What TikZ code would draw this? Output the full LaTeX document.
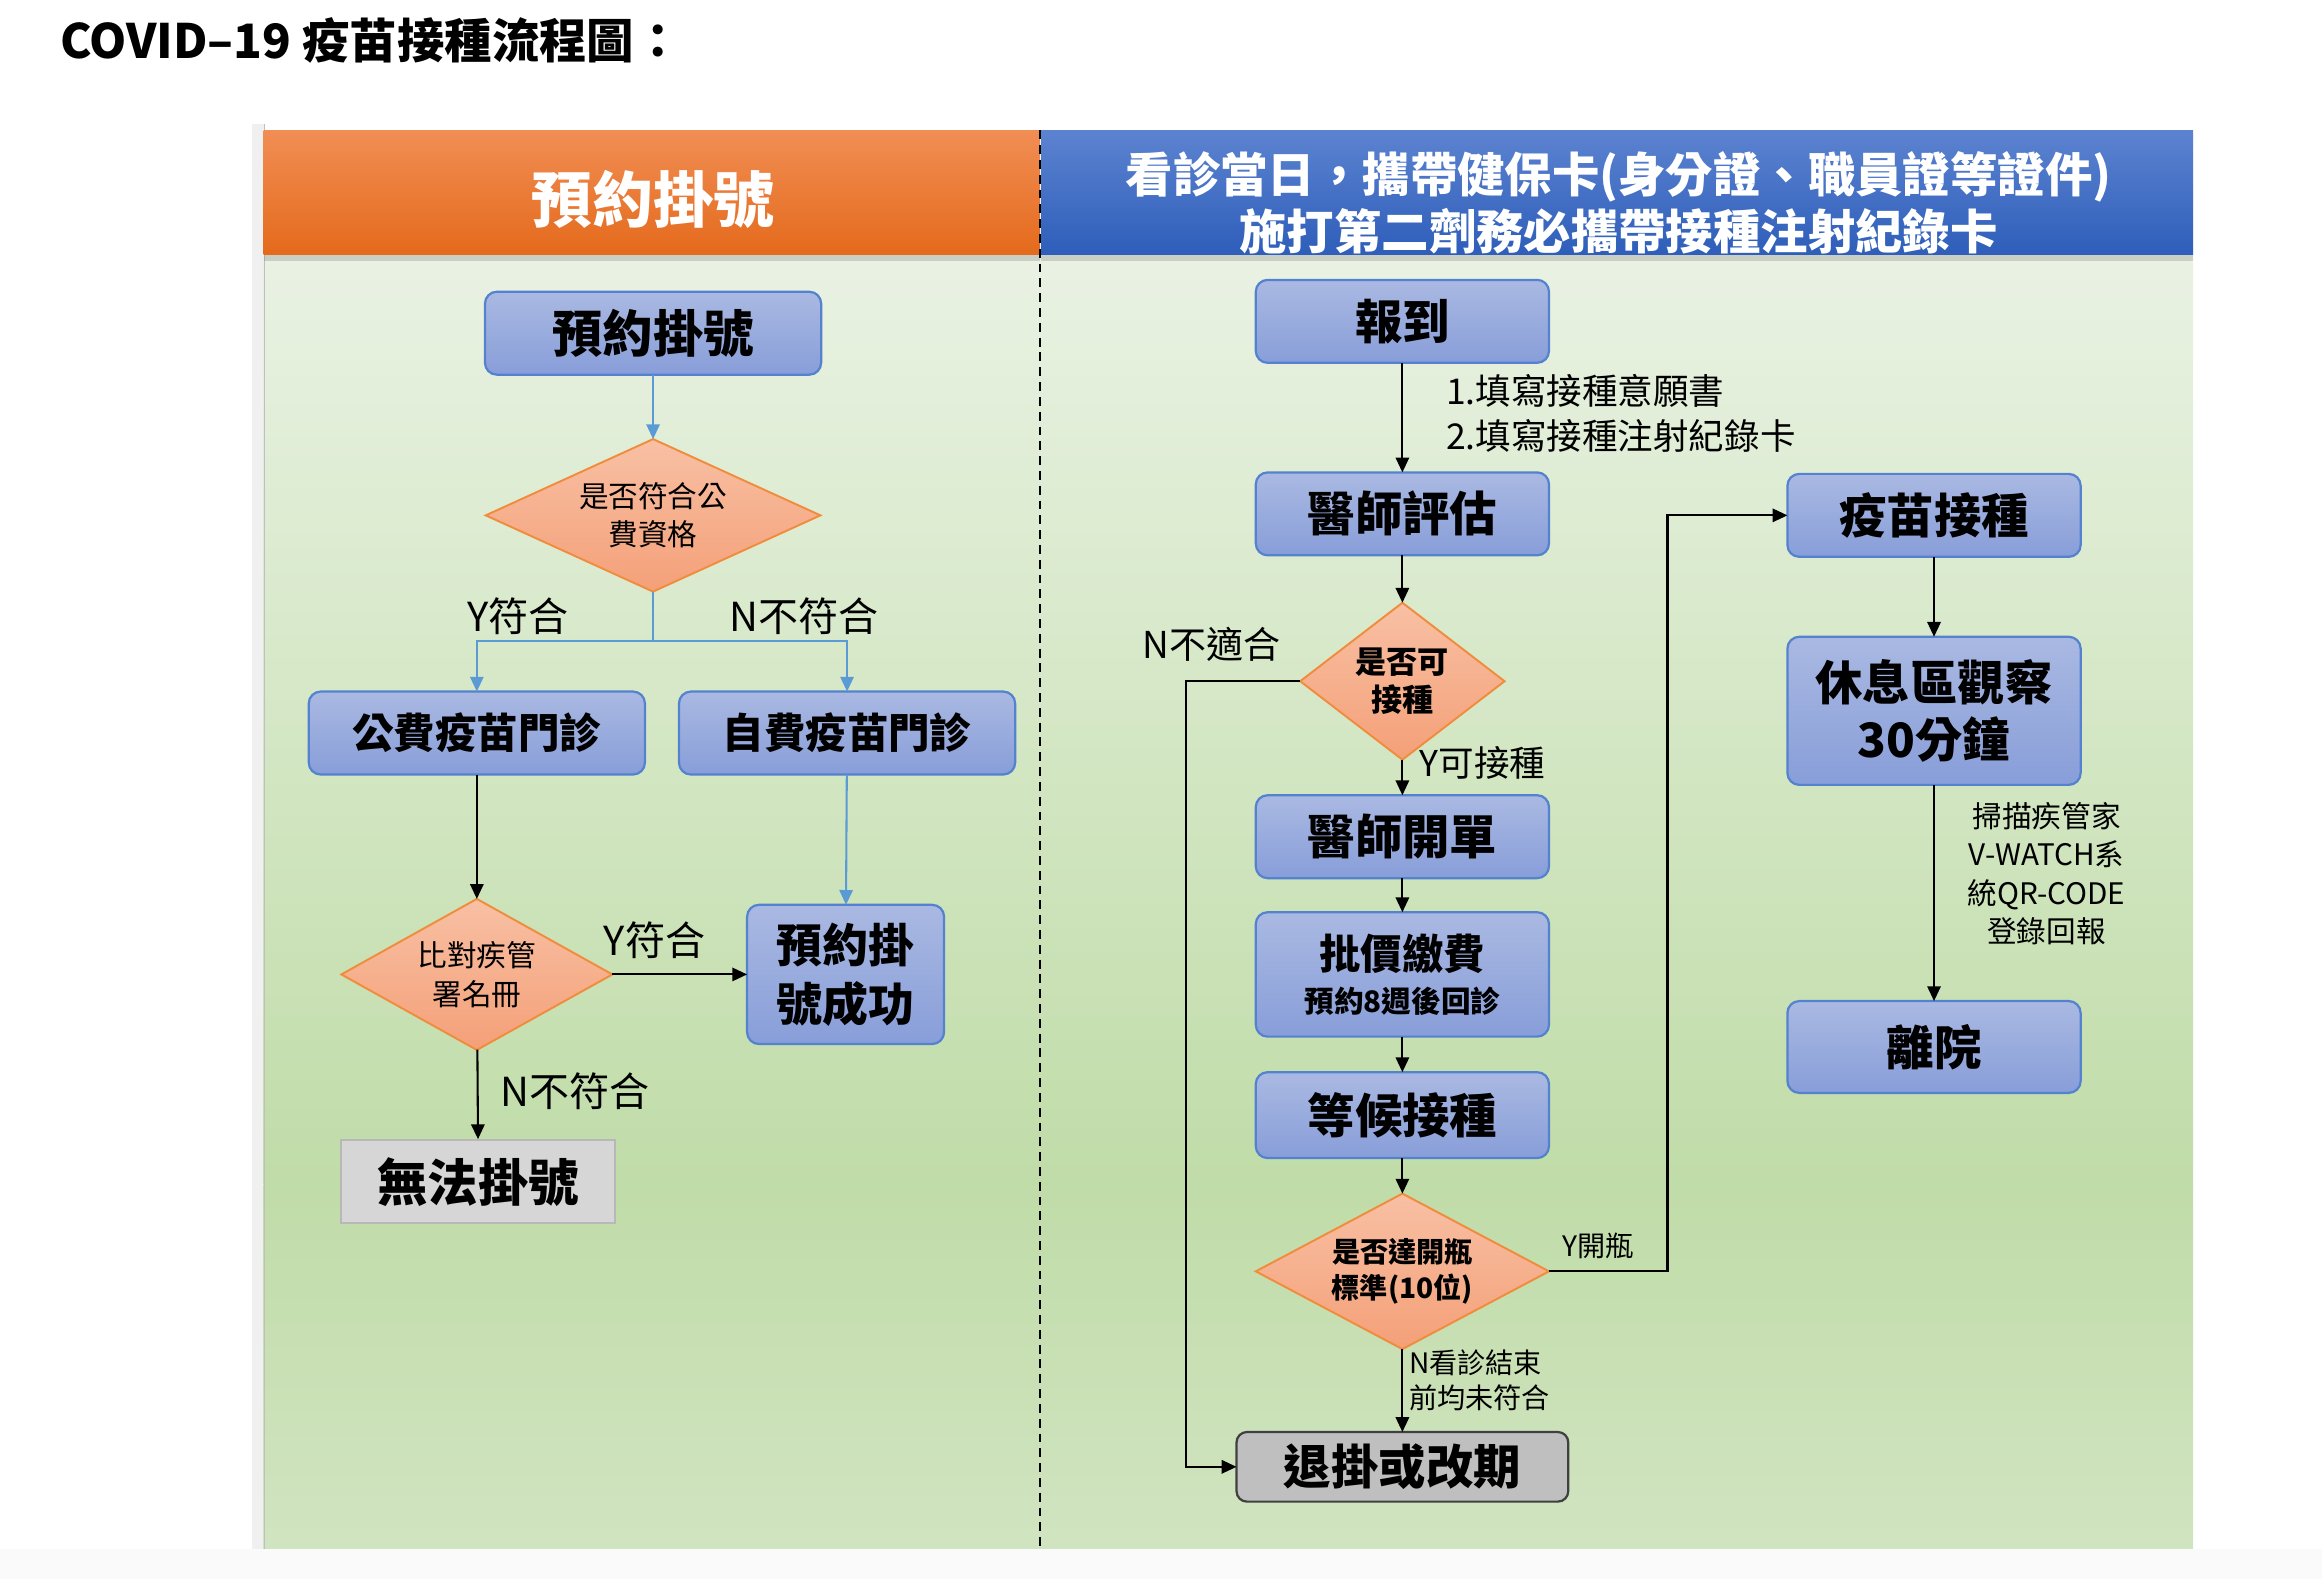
\documentclass[tikz,border=0pt]{standalone}
\usepackage{fontspec}
\setmainfont{Noto Sans CJK TC}
\usetikzlibrary{positioning,arrows.meta,shapes.geometric,shadows}

\definecolor{boxtop}{RGB}{170,185,226}
\definecolor{boxbot}{RGB}{136,158,217}
\definecolor{boxline}{RGB}{84,130,206}
\definecolor{diatop}{RGB}{248,192,164}
\definecolor{diabot}{RGB}{244,160,120}
\definecolor{dialine}{RGB}{240,140,60}
\definecolor{bgtop}{RGB}{239,245,235}
\definecolor{bgmid}{RGB}{192,220,168}
\definecolor{bgbot}{RGB}{209,228,193}
\definecolor{hdrotop}{RGB}{241,142,84}
\definecolor{hdrobot}{RGB}{228,106,28}
\definecolor{hdrbtop}{RGB}{92,131,208}
\definecolor{hdrbbot}{RGB}{46,94,186}
\definecolor{flowblue}{RGB}{91,155,213}

\begin{document}
\begin{tikzpicture}[x=1pt, y=-1pt, node distance=24pt, every node/.style={align=center, text=black},
  proc/.style={draw=boxline, line width=1.5pt, rounded corners=8pt, top color=boxtop, bottom color=boxbot, outer sep=0pt,
    minimum width=198pt, minimum height=56pt, inner sep=2pt, font=\bfseries\fontsize{32}{39}\selectfont},
  check/.style={diamond, draw=dialine, line width=1.3pt, top color=diatop, bottom color=diabot, inner sep=0pt, outer sep=0pt,
    font=\fontsize{20}{26}\selectfont},
  hdr/.style={minimum height=84pt, inner sep=0pt, drop shadow={shadow xshift=0pt, shadow yshift=-4pt, opacity=0.3}},
  hdrtext/.style={text=white, font=\bfseries\fontsize{32}{38}\selectfont},
  tag/.style={font=\fontsize{27}{32}\selectfont},
  small/.style={font=\fontsize{19}{24}\selectfont},
  link/.style={-{Triangle[length=10pt, width=9pt]}, line width=1.4pt},
  bluelink/.style={link, draw=flowblue}]

\useasboundingbox (0,0) rectangle (1568,1066);

% panel
\fill[black!6] (170,84) rectangle (178,1046);
\fill[top color=bgtop, bottom color=bgmid] (178,88) rectangle (1481,800);
\fill[top color=bgmid, bottom color=bgbot] (178,800) rectangle (1481,1046);
\draw[black!25, line width=1pt] (178.5,84) -- (178.5,1046);
\fill[black!2] (0,1046) rectangle (1568,1066);

\node[anchor=west, font=\bfseries\fontsize{32}{38}\selectfont] (title) at (37,27) {COVID–19 疫苗接種流程圖：};

\node[hdr, top color=hdrotop, bottom color=hdrobot, minimum width=524pt] (hl) at (440,130) {};
\node[hdrtext, font=\bfseries\fontsize{41}{46}\selectfont] (hltext) at (441,135) {預約掛號};
\node[hdr, top color=hdrbtop, bottom color=hdrbbot, minimum width=778pt] (hr) at (1092,130) {};
\node[hdrtext] (hrtext) at (1093,137) {看診當日，攜帶健保卡(身分證、職員證等證件)\\施打第二劑務必攜帶接種注射紀錄卡};
\draw[dash pattern=on 6pt off 4pt, line width=1.2pt] (702.5,88) -- (702.5,1046);

% left: booking
\node[proc, minimum width=227pt, font=\bfseries\fontsize{34}{40}\selectfont] (book) at (441,225) {預約掛號};
\node[check, aspect=2.2, minimum width=226pt, minimum height=103pt] (elig) at (441,348) {是否符合公\\費資格};
\coordinate (fork) at (441,433);
\node[proc, minimum width=227pt, font=\bfseries\fontsize{28}{34}\selectfont] (pub) at (322,495) {公費疫苗門診};
\node[proc, minimum width=227pt, font=\bfseries\fontsize{28}{34}\selectfont] (own) at (572,495) {自費疫苗門診};
\node[check, aspect=1.8, minimum width=183pt, minimum height=102pt] (roll) at (322,658) {比對疾管\\署名冊};
\node[proc, minimum width=133pt, minimum height=94pt, font=\bfseries\fontsize{31}{40}\selectfont] (booked) at (571,658) {預約掛\\號成功};
\node[draw=black!28, line width=1.5pt, fill=black!16, minimum width=185pt, minimum height=56pt,
  font=\bfseries\fontsize{34}{40}\selectfont] (nobook) at (323,798) {無法掛號};

\node[tag] (ypub) at (350,416) {Y符合};
\node[tag] (nown) at (543,416) {N不符合};
\node[tag] (yroll) at (442,635) {Y符合};
\node[tag] (nroll) at (388,737) {N不符合};

\draw[bluelink] (book) -- (elig);
\draw[flowblue, line width=1.4pt] (elig.south) -- (fork);
\draw[bluelink] (fork) -| (pub);
\draw[bluelink] (fork) -| (own);
\draw[link] (pub) -- (roll);
\draw[bluelink] (own) -- (booked);
\draw[link] (roll) -- (booked);
\draw[link] (roll) -- (nobook);

% right: visit day
\node[proc] (desk) at (947,217) {報到};
\node[proc, below=74pt of desk] (eval) {醫師評估};
\node[check, aspect=1.3, minimum width=138pt, minimum height=106pt, font=\bfseries\fontsize{21}{26}\selectfont, below=32pt of eval] (fit) {是否可\\接種};
\node[proc, below=of fit] (order) {醫師開單};
\node[proc, minimum height=84pt, below=23pt of order] (pay) {\fontsize{28}{32}\selectfont 批價繳費\\[-10pt]{\fontsize{20}{24}\selectfont 預約8週後回診}};
\node[proc, minimum height=58pt, below=of pay] (wait) {等候接種};
\node[check, aspect=2, minimum width=198pt, minimum height=105pt, font=\bfseries\fontsize{19}{24}\selectfont, below=of wait] (ten) {是否達開瓶\\標準(10位)};
\node[draw=black!75, line width=1.5pt, rounded corners=7pt, fill=black!25, minimum width=224pt, minimum height=47pt, outer sep=0pt,
  font=\bfseries\fontsize{32}{38}\selectfont, below=56pt of ten] (later) {退掛或改期};

\node[proc] (shot) at (1306,348) {疫苗接種};
\node[proc, minimum height=100pt, below=54pt of shot] (rest) {休息區觀察\\30分鐘};
\node[proc, minimum height=62pt, below=146pt of rest] (leave) {離院};

\node[anchor=west, align=left, font=\fontsize{24}{30}\selectfont] (forms) at (973,279) {1.填寫接種意願書\\2.填寫接種注射紀錄卡};
\node[font=\fontsize{25}{30}\selectfont] (nfit) at (818,435) {N不適合};
\node[font=\fontsize{24}{30}\selectfont] (yfit) at (1001,515) {Y可接種};
\node[small] (yopen) at (1079,841) {Y開瓶};
\node[small, anchor=west, align=left] (nopen) at (948,932) {N看診結束\\前均未符合};
\node[font=\fontsize{20}{26}\selectfont] (scan) at (1382,590) {掃描疾管家\\V-WATCH系\\統QR-CODE\\登錄回報};

\coordinate (nturn) at (801,0);
\coordinate (yturn) at (1126,0);
\draw[link] (desk) -- (eval);
\draw[link] (eval) -- (fit);
\draw[link] (fit) -- (order);
\draw[link] (order) -- (pay);
\draw[link] (pay) -- (wait);
\draw[link] (wait) -- (ten);
\draw[link] (ten) -- (later);
\draw[link] (fit.west) -- (fit.west -| nturn) |- (later.west);
\draw[link] (ten.east) -- (ten.east -| yturn) |- (shot.west);
\draw[link] (shot) -- (rest);
\draw[link] (rest) -- (leave);
\end{tikzpicture}
\end{document}
